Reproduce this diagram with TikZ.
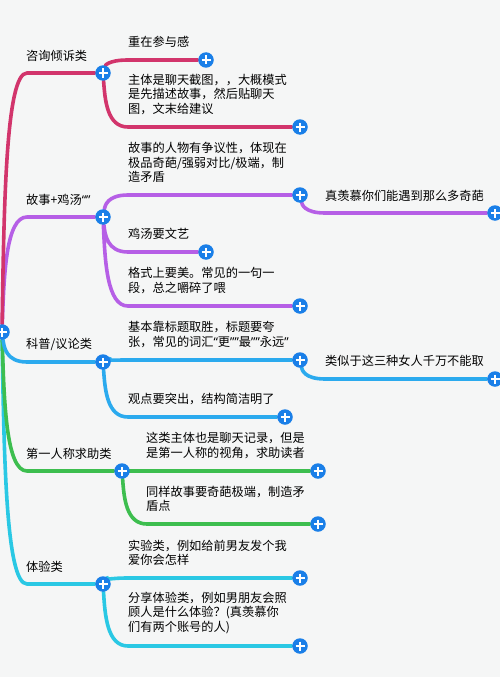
\documentclass[tikz,border=0pt]{standalone}
\usepackage{fontspec}
\newfontfamily\cjk{Noto Sans CJK SC}
\newfontfamily\latin{Noto Sans}
\newcommand\qopen{{\latin “}}
\newcommand\qclose{{\latin ”}}
\usetikzlibrary{calc}
\definecolor{bgcol}{HTML}{F5F6F6}
\definecolor{plusblue}{HTML}{1A7FE8}
\definecolor{zixun}{HTML}{D2356C}
\definecolor{gushi}{HTML}{B65FE6}
\definecolor{kepu}{HTML}{2BAAEE}
\definecolor{qiuzhu}{HTML}{3DBE4F}
\definecolor{tiyan}{HTML}{2AC8E4}
\pgfdeclarelayer{back}
\pgfsetlayers{back,main}

\begin{document}
\begin{tikzpicture}[x=1pt,y=-1pt,
    plus/.style={circle,fill=plusblue,minimum size=15.5pt,inner sep=0pt,
      path picture={\draw[white,line width=2.3pt]
        ($(path picture bounding box.center)+(-4.5,0)$) -- +(9,0)
        ($(path picture bounding box.center)+(0,-4.5)$) -- +(0,9);}},
    txt/.style={anchor=south west,inner sep=0pt,align=left,
      font=\cjk\fontsize{12.2}{14.5}\selectfont},
    branch/.style={line width=3.6pt,line cap=round,
      to path={.. controls ($(\tikztostart)!.5!(\tikztostart|-\tikztotarget)+(2,0)$)
        and ($(\tikztostart|-\tikztotarget)+(4,0)$)
        .. ($(\tikztostart|-\tikztotarget)+(25,0)$) -- (\tikztotarget)}}]
    \useasboundingbox (0,0) rectangle (500,677);
    \begin{pgfonlayer}{back}
      \fill[bgcol] (0,0) rectangle (500,677);
    \end{pgfonlayer}
    \node[plus] (root) at (2,332) {};
    % 咨询倾诉类
    \node[plus] (zx) at (103,73) {};
    \node[plus] (zx1) at (206,60) {};
    \node[plus] (zx2) at (300,127) {};
    \node[txt] (zxl) at (26,62) {咨询倾诉类};
    \node[txt] (zx1l) at (128,48) {重在参与感};
    \node[txt] (zx2l) at (128,115) {主体是聊天截图，，大概模式\\是先描述故事，然后贴聊天\\图，文末给建议};
    % 故事+鸡汤
    \node[plus] (gs) at (103,217) {};
    \node[plus] (gs1) at (300,195) {};
    \node[plus] (gs11) at (495,213) {};
    \node[plus] (gs2) at (206,252) {};
    \node[plus] (gs3) at (300,306) {};
    \node[txt] (gsl) at (26,206) {故事+鸡汤\qopen\qclose};
    \node[txt] (gs1l) at (128,183) {故事的人物有争议性，体现在\\极品奇葩/强弱对比/极端，制\\造矛盾};
    \node[txt] (gs11l) at (325,202) {真羡慕你们能遇到那么多奇葩};
    \node[txt] (gs2l) at (128,240) {鸡汤要文艺};
    \node[txt] (gs3l) at (128,294) {格式上要美。常见的一句一\\段，总之嚼碎了喂};
    % 科普/议论类
    \node[plus] (kp) at (103,362) {};
    \node[plus] (kp1) at (300,360) {};
    \node[plus] (kp11) at (495,379) {};
    \node[plus] (kp2) at (285,417) {};
    \node[txt] (kpl) at (26,351) {科普/议论类};
    \node[txt] (kp1l) at (128,348) {基本靠标题取胜，标题要夸\\张，常见的词汇\qopen 更\qclose\qclose 最\qclose\qclose 永远\qclose};
    \node[txt] (kp11l) at (325,367) {类似于这三种女人千万不能取};
    \node[txt] (kp2l) at (128,405) {观点要突出，结构简洁明了};
    % 第一人称求助类
    \node[plus] (qz) at (122,471) {};
    \node[plus] (qz1) at (318,471) {};
    \node[plus] (qz2) at (318,524) {};
    \node[txt] (qzl) at (26,460) {第一人称求助类};
    \node[txt] (qz1l) at (146,459) {这类主体也是聊天记录，但是\\是第一人称的视角，求助读者};
    \node[txt] (qz2l) at (146,512) {同样故事要奇葩极端，制造矛\\盾点};
    % 体验类
    \node[plus] (ty) at (103,584) {};
    \node[plus] (ty1) at (300,578) {};
    \node[plus] (ty2) at (300,646) {};
    \node[txt] (tyl) at (26,573) {体验类};
    \node[txt] (ty1l) at (128,566) {实验类，例如给前男友发个我\\爱你会怎样};
    \node[txt] (ty2l) at (128,634) {分享体验类，例如男朋友会照\\顾人是什么体验？(真羡慕你\\们有两个账号的人)};
    \begin{pgfonlayer}{back}
      \draw[branch,tiyan] (root) to (ty) (ty) to (ty1) (ty) to (ty2);
      \draw[branch,qiuzhu] (root) to (qz) (qz) to (qz1) (qz) to (qz2);
      \draw[branch,kepu] (root) to (kp) (kp) to (kp1) (kp1) to (kp11) (kp) to (kp2);
      \draw[branch,gushi] (root) to (gs) (gs) to (gs1) (gs1) to (gs11) (gs) to (gs2) (gs) to (gs3);
      \draw[branch,zixun] (root) to (zx) (zx) to (zx1) (zx) to (zx2);
    \end{pgfonlayer}
  \end{tikzpicture}
\end{document}
